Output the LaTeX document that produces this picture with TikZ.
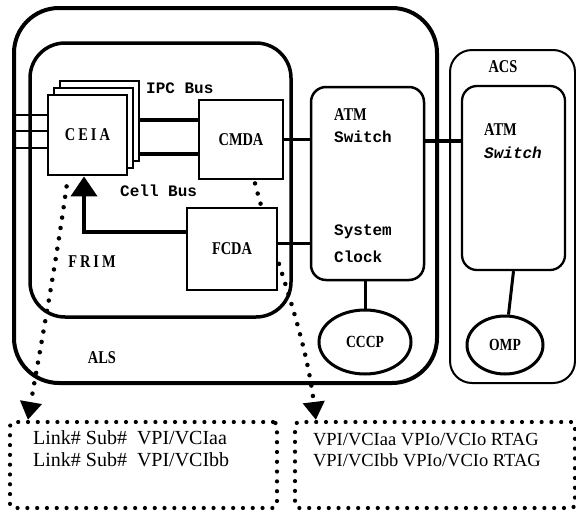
\documentclass[tikz,border=0pt]{standalone}
\usepackage{fontspec}
\setmainfont{Liberation Serif}
\setmonofont{Liberation Mono}
\newfontfamily\labelfont[FakeStretch=0.8]{Liberation Serif}
\usetikzlibrary{arrows.meta, positioning, calc, shapes.geometric}
\pgfdeclarelayer{back}
\pgfsetlayers{back,main}

\begin{document}
\begin{tikzpicture}[x=1pt, y=-1pt,
  region/.style={draw, inner sep=0pt},
  unit/.style={draw, fill=white, line width=2.8pt, inner sep=0pt, font=\labelfont\bfseries\fontsize{18}{20}\selectfont},
  switchbox/.style={draw, fill=white, line width=2.5pt, rounded corners=15pt, inner sep=0pt},
  proc/.style={draw, ellipse, fill=white, line width=3pt, inner sep=0pt, font=\labelfont\bfseries\fontsize{17}{19}\selectfont},
  lbl/.style={font=\labelfont\bfseries\fontsize{18}{20}\selectfont, inner sep=0pt},
  mono/.style={font=\ttfamily\bfseries\fontsize{16}{18}\selectfont, inner sep=0pt, anchor=west},
  bus/.style={line width=4pt},
  link/.style={line width=3pt},
  trace/.style={line width=4.5pt, line cap=round, dash pattern=on 0pt off 10.5pt, -{Triangle[width=21pt,length=18pt]}},
  tablebox/.style={draw, line width=4.2pt, line cap=round, dash pattern=on 0pt off 9.8pt, rounded corners=4pt, inner sep=0pt},
  entry/.style={font=\fontsize{20}{22}\selectfont, align=left, inner sep=0pt, anchor=north west}]
  \useasboundingbox (0,0) rectangle (576,512);

  % shelves
  \node[region, line width=4pt, rounded corners=45pt, minimum width=423pt, minimum height=375pt] (als) at (225.5,195.5) {};
  \node[region, line width=3.5pt, rounded corners=35pt, minimum width=261pt, minimum height=274pt] (frim) at (160.5,180) {};
  \node[region, line width=2pt, rounded corners=22pt, minimum width=125pt, minimum height=333pt] (acs) at (512.5,216.5) {};
  \node[lbl] (alslbl) at (102,358) {ALS};
  \node[lbl] (frimlbl) at (92,262) {F\,R\,I\,M};
  \node[lbl] (acslbl) at (503,67) {ACS};

  % cards
  \node[unit, line width=2.5pt, minimum width=79pt, minimum height=80pt] (ceia3) at (99.5,121) {};
  \node[unit, line width=2.5pt, minimum width=79pt, minimum height=80pt] (ceia2) at (93.5,128) {};
  \node[unit, minimum width=79pt, minimum height=80pt] (ceia) at (87.5,135) {C\,E\,I\,A};
  \node[unit, minimum width=84pt, minimum height=79pt] (cmda) at (241,139.5) {CMDA};
  \node[unit, minimum width=90pt, minimum height=82pt] (fcda) at (232,249) {FCDA};
  \node[mono] (ipclbl) at (146,88) {IPC Bus};
  \node[mono] (celllbl) at (120,191) {Cell Bus};

  % switches
  \node[switchbox, minimum width=113pt, minimum height=193pt] (atm) at (367.5,183.5) {};
  \node[lbl, anchor=west] (atm1a) at (334,115) {ATM};
  \node[mono] (atm1b) at (334,137) {Switch};
  \node[mono] (clk1) at (334,232) {System};
  \node[mono] (clk2) at (334,257) {Clock};
  \node[switchbox, line width=2.3pt, minimum width=103pt, minimum height=184pt] (atm2) at (513.5,178) {};
  \node[lbl, anchor=west] (atm2a) at (484,130) {ATM};
  \node[mono, font=\ttfamily\bfseries\itshape\fontsize{16}{18}\selectfont] (atm2b) at (484,153) {Switch};
  \node[proc, minimum width=92pt, minimum height=64pt] (cccp) at (365,342) {CCCP};
  \node[proc, minimum width=76pt, minimum height=58pt] (omp) at (505,345) {OMP};

  % tables
  \node[tablebox, minimum width=267pt, minimum height=86pt] (lbox) at (143.5,465) {};
  \node[tablebox, minimum width=280pt, minimum height=86pt] (rbox) at (435,465) {};
  \node[entry] (ltext) at ([xshift=25pt,yshift=-11pt]lbox.north west) {Link\# Sub\#\hspace{10pt}VPI/VCIaa\\Link\# Sub\#\hspace{10pt}VPI/VCIbb};
  \node[entry, font=\fontsize{18.5}{21}\selectfont] (rtext) at ([xshift=20pt,yshift=-13pt]rbox.north west) {VPI/VCIaa VPIo/VCIo RTAG\\VPI/VCIbb VPIo/VCIo RTAG};

  % links
  \foreach \dy in {-20,-4,13}
    \draw[line width=1.5pt] ([yshift=-\dy pt]ceia.west) -- ([yshift=-\dy pt]ceia.west -| als.west);
  \coordinate (ipc) at ([yshift=20pt]cmda.west);
  \coordinate (cell) at ([yshift=-14pt]cmda.west);
  \draw[bus] (ipc) -- (ipc -| ceia3.east);
  \draw[bus] (cell) -- (cell -| ceia3.east);
  \draw[link] (cmda.east) -- (cmda.east -| atm.west);
  \coordinate (fc) at ([yshift=6pt]fcda.east);
  \draw[link] (fc) -- (fc -| atm.west);
  \coordinate (trunk) at ([yshift=43pt]atm.east);
  \draw[bus] (trunk) -- (trunk -| atm2.west);
  \draw[link] (cccp.north) -- (cccp.north |- atm.south);
  \draw[link] (atm2.south) -- (omp);
  \draw[line width=4pt, -{Triangle[width=26pt,length=20pt]}] ([yshift=17pt]fcda.west) -| ([xshift=-3.5pt]ceia.south);

  \begin{pgfonlayer}{back}
    \draw[trace] ([xshift=20pt,yshift=-10pt]ceia.south west) .. controls (55,270) and (40,350) .. ([xshift=20pt]lbox.north west);
    \draw[trace] ([xshift=14pt,yshift=-3pt]cmda.south) .. controls (275,260) and (305,330) .. ([xshift=23pt]rbox.north west);
  \end{pgfonlayer}
\end{tikzpicture}
\end{document}
